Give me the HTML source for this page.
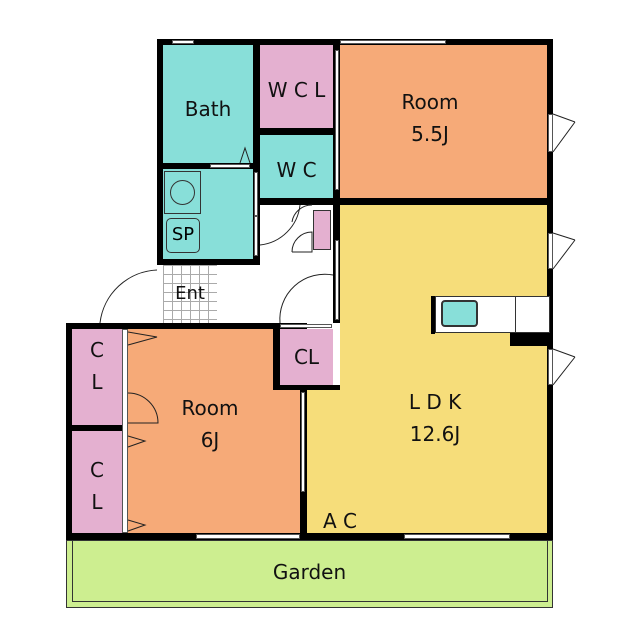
<!DOCTYPE html><html><head><style>
body{margin:0;width:640px;height:640px;background:#fff;position:relative;overflow:hidden;font-family:"DejaVu Sans","Liberation Sans",sans-serif;}
div{position:absolute;box-sizing:border-box}
.b{background:#000}.t{background:#88dfd9}.p{background:#e4b0d0}.o{background:#f6aa78}.y{background:#f6dd7a}.w{background:#fff;border:1px solid #555}
.l{font-size:20px;color:#111;text-align:center;line-height:1.6}
</style></head><body>
<div style="left:66px;top:540px;width:487px;height:68px;background:#cdee90;border:1px solid #333"></div>
<div style="left:72px;top:540px;width:476px;height:62px;border:1px solid #333;border-top:none"></div>
<div class="l" style="left:66px;top:556px;width:487px">Garden</div>
<div class="t" style="left:163px;top:45px;width:90px;height:118px"></div>
<div class="t" style="left:163px;top:169px;width:90px;height:90px"></div>
<div class="p" style="left:260px;top:45px;width:73px;height:83px"></div>
<div class="t" style="left:260px;top:135px;width:73px;height:63px"></div>
<div class="o" style="left:340px;top:45px;width:207px;height:153px"></div>
<div class="y" style="left:340px;top:205px;width:207px;height:328px"></div>
<div class="y" style="left:307px;top:390px;width:40px;height:143px"></div>
<div style="left:163px;top:265px;width:54px;height:58px;background-color:#fff;background-image:linear-gradient(#aaa 1px,transparent 1px),linear-gradient(90deg,#aaa 1px,transparent 1px);background-size:9px 9px"></div>
<div class="o" style="left:128px;top:329px;width:172px;height:204px"></div>
<div class="p" style="left:280px;top:329px;width:53px;height:56px"></div>
<div class="p" style="left:72px;top:329px;width:50px;height:96px"></div>
<div class="p" style="left:72px;top:431px;width:50px;height:102px"></div>
<div class="p" style="left:313px;top:210px;width:18px;height:40px;border:1px solid #333"></div>
<!-- walls -->
<div class="b" style="left:157px;top:39px;width:396px;height:6px"></div>
<div class="b" style="left:547px;top:39px;width:6px;height:501px"></div>
<div class="b" style="left:66px;top:533px;width:487px;height:7px"></div>
<div class="b" style="left:157px;top:39px;width:6px;height:226px"></div>
<div class="b" style="left:66px;top:323px;width:241px;height:6px"></div>
<div class="b" style="left:66px;top:323px;width:6px;height:217px"></div>
<div class="b" style="left:253px;top:39px;width:7px;height:226px"></div>
<div class="b" style="left:260px;top:128px;width:73px;height:7px"></div>
<div class="b" style="left:333px;top:39px;width:7px;height:166px"></div>
<div class="b" style="left:253px;top:198px;width:300px;height:7px"></div>
<div class="b" style="left:157px;top:163px;width:96px;height:6px"></div>
<div class="b" style="left:157px;top:259px;width:103px;height:6px"></div>
<div class="b" style="left:333px;top:205px;width:7px;height:118px"></div>
<div class="b" style="left:273px;top:323px;width:7px;height:67px"></div>
<div class="b" style="left:273px;top:385px;width:67px;height:5px"></div>
<div class="b" style="left:300px;top:385px;width:7px;height:148px"></div>
<div class="b" style="left:72px;top:425px;width:56px;height:6px"></div>
<div class="b" style="left:510px;top:333px;width:37px;height:13px"></div>
<div class="b" style="left:431px;top:296px;width:4px;height:38px"></div>
<!-- windows/doors -->
<div class="w" style="left:172px;top:40px;width:22px;height:4px"></div>
<div class="w" style="left:340px;top:40px;width:106px;height:4px"></div>
<div class="w" style="left:335px;top:50px;width:4px;height:140px"></div>
<div class="w" style="left:122px;top:329px;width:6px;height:204px"></div>
<div class="w" style="left:301px;top:392px;width:4px;height:100px"></div>
<div class="w" style="left:196px;top:534px;width:104px;height:5px"></div>
<div class="w" style="left:404px;top:534px;width:106px;height:5px"></div>
<div class="w" style="left:210px;top:164px;width:40px;height:4px"></div>
<div class="w" style="left:548px;top:114px;width:5px;height:38px"></div>
<div class="w" style="left:548px;top:233px;width:5px;height:36px"></div>
<div class="w" style="left:548px;top:349px;width:5px;height:36px"></div>
<div class="w" style="left:335px;top:240px;width:4px;height:80px"></div>
<div class="w" style="left:254px;top:172px;width:4px;height:44px"></div>
<div class="w" style="left:254px;top:216px;width:4px;height:40px"></div>
<div class="w" style="left:280px;top:324px;width:52px;height:4px"></div>
<div style="left:435px;top:296px;width:115px;height:37px;background:#fff;border:1px solid #333"></div>
<div style="left:515px;top:296px;width:1px;height:37px;background:#333"></div>
<div style="left:441px;top:300px;width:37px;height:27px;background:#88dfd9;border:2px solid #333;border-radius:4px"></div>
<div style="left:164px;top:171px;width:37px;height:43px;border:1px solid #333"></div>
<div style="left:170px;top:180px;width:25px;height:25px;border:1px solid #333;border-radius:50%"></div>
<div style="left:166px;top:218px;width:34px;height:35px;border:1.5px solid #333;border-radius:5px;font-size:18px;text-align:center;line-height:32px">SP</div>
<svg style="position:absolute;left:0;top:0" width="640" height="640" fill="none" stroke="#222" stroke-width="1">
<path d="M553 114 L575 122 M553 152 L575 122"/>
<path d="M553 233 L575 240 M553 269 L575 240"/>
<path d="M553 349 L575 357 M553 385 L575 357"/>
<path d="M128 332 L157 337 L128 345"/><path d="M128 436 L145 441 L128 447"/><path d="M128 520 L145 525 L128 531"/>
<path d="M128 393 A30 30 0 0 1 158 423 L128 423"/>
<path d="M100 323 A60 60 0 0 1 157 270"/>
<path d="M280 323 A45 45 0 0 1 333 275"/>
<path d="M260 245 A45 45 0 0 0 300 205"/>
<path d="M292 222 A20 20 0 0 1 312 205 M292 252 A20 20 0 0 1 312 232 L312 252 L292 252"/>
<path d="M240 163 L245 148 L250 163"/>
</svg>
<div class="l" style="left:163px;top:93px;width:90px">Bath</div>
<div class="l" style="left:260px;top:74px;width:73px">W C L</div>
<div class="l" style="left:260px;top:154px;width:73px">W C</div>
<div class="l" style="left:340px;top:86px;width:180px">Room<br>5.5J</div>
<div class="l" style="left:163px;top:280px;width:54px;font-size:18px">Ent</div>
<div class="l" style="left:280px;top:341px;width:53px">CL</div>
<div class="l" style="left:72px;top:334px;width:50px">C<br>L</div>
<div class="l" style="left:72px;top:454px;width:50px">C<br>L</div>
<div class="l" style="left:150px;top:392px;width:120px">Room<br>6J</div>
<div class="l" style="left:350px;top:386px;width:170px">L D K<br>12.6J</div>
<div class="l" style="left:318px;top:505px;width:44px">A C</div>
</body></html>
